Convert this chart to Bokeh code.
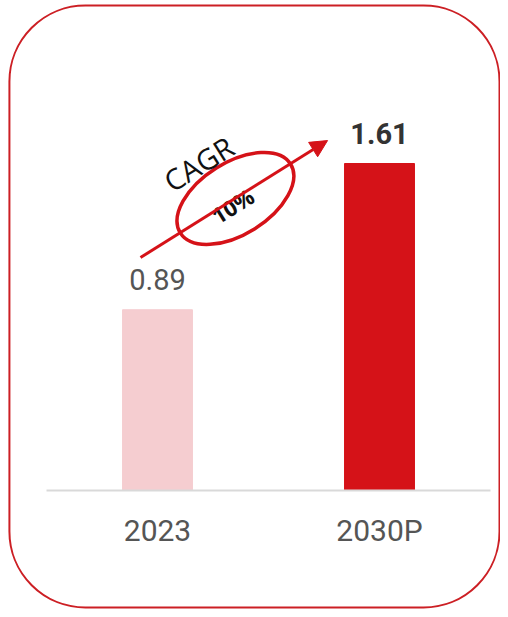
from bokeh.plotting import figure
from bokeh.models import Range1d, ColumnDataSource, BoxAnnotation, Arrow, NormalHead
from bokeh.core.properties import value
from bokeh.embed import file_html
from bokeh.resources import INLINE

# ---- data ----
categories = ["2023", "2030P"]
values = [0.89, 1.61]
value_labels = ["0.89", "1.61"]
bar_colors = ["#f5cdd0", "#d51218"]
label_weights = ["normal", "bold"]
label_colors = ["#555555", "#333333"]
cagr_text = "CAGR"
cagr_value = "10%"

W, H = 500, 609
xs = list(range(len(categories)))

p = figure(width=W, height=H, output_backend="svg", toolbar_location=None,
           x_range=Range1d(-0.7072, 1.5450), y_range=Range1d(-0.5859, 2.4126),
           x_axis_type=None, y_axis_type=None, min_border=0)
p.outline_line_color = None
p.grid.visible = False
p.background_fill_color = "white"
p.border_fill_color = "white"

# rounded frame
p.add_layout(BoxAnnotation(left=-0.667, right=1.5405, top=2.388, bottom=-0.576,
                           fill_alpha=0, line_color="#cc1f24", line_alpha=1,
                           line_width=2, border_radius=76))

src = ColumnDataSource(dict(x=xs, top=values, color=bar_colors, lab=value_labels,
                            cat=categories, weight=label_weights, lcolor=label_colors,
                            zero=[0] * len(xs)))

p.vbar(x="x", top="top", width=0.315, bottom=0, color="color", source=src)

# baseline
p.line(x=[-0.5, 1.5], y=[0, 0], line_color="#d9d9d9", line_width=2)

# value labels
p.text(x="x", y="top", text="lab", source=src, text_align="center",
       text_baseline="middle", y_offset=-30, text_font=value("Roboto"),
       text_font_size="29px", text_font_style="weight", text_color="lcolor")

# category labels
p.text(x="x", y="zero", text="cat", source=src, text_align="center",
       text_baseline="middle", y_offset=40, text_font=value("Roboto"),
       text_font_size="30px", text_color="#555555")

# CAGR arrow
p.add_layout(Arrow(x_start=-0.0766, y_start=1.147, x_end=0.766, y_end=1.723,
                   line_color="#d51218", line_width=3,
                   end=NormalHead(size=17, fill_color="#d51218", line_color="#d51218")))
p.ellipse(x=[0.351], y=[1.438], width=130, height=72, width_units="screen",
          height_units="screen", angle=32, angle_units="deg",
          fill_color="white", line_color="#d51218", line_width=3.5)
p.text(x=[0.185], y=[1.610], text=[cagr_text], angle=32, angle_units="deg",
       text_align="center", text_baseline="middle", text_font=value("Open Sans"),
       text_font_size="29px", text_color="#111111")
p.text(x=[0.338], y=[1.403], text=[cagr_value], angle=32, angle_units="deg",
       text_align="center", text_baseline="middle", text_font=value("Open Sans"),
       text_font_size="22px", text_font_style="bold", text_color="#111111")

open("out.html", "w").write(file_html(p, INLINE))
